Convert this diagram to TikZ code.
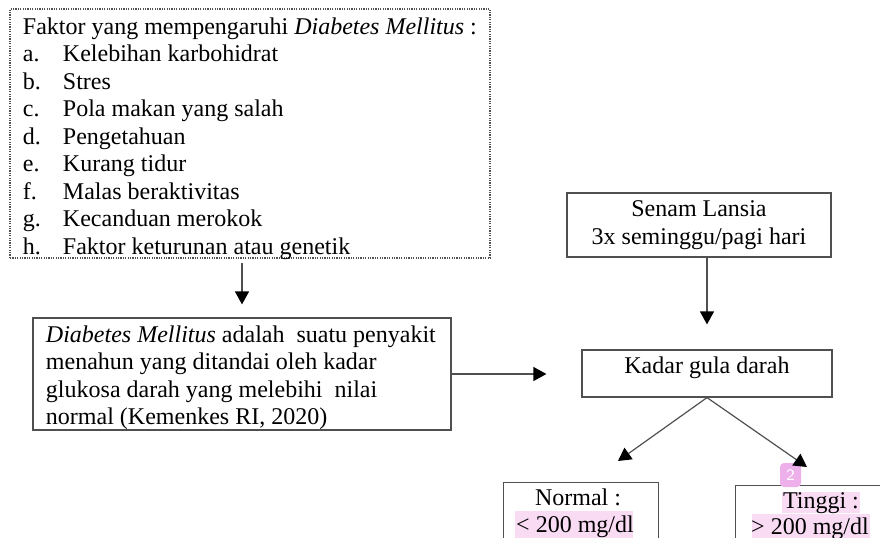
\documentclass[tikz,border=0pt]{standalone}
\usepackage{fontspec}
\setmainfont{Liberation Serif}
\usetikzlibrary{arrows.meta}
\definecolor{hl}{HTML}{F9DCF4}
\definecolor{badgepink}{HTML}{EDB0EA}
\definecolor{ln}{HTML}{505050}
\newcommand\facitem[1]{\makebox[20pt][l]{#1}}
\begin{document}
\begin{tikzpicture}[x=0.5pt,y=-0.5pt,
  every node/.style={font=\fontsize{12}{13.75}\selectfont},
  boxstyle/.style={draw=ln, line width=0.6pt, rectangle, inner sep=0pt},
  arr/.style={draw=ln, line width=0.6pt, -{Triangle[length=6.5pt,width=7pt,color=black]}},
  lbl/.style={inner sep=0pt, anchor=base}]
\useasboundingbox (0,0) rectangle (880,537);
\clip (0,0) rectangle (880,537);
\fill[white] (0,0) rectangle (880,537);

% factors box
\node[boxstyle, dash pattern=on 0.6pt off 0.6pt, minimum width=240pt, minimum height=124.5pt] (factors) at (250,133.5)
 {\makebox[227pt][l]{\raisebox{-2.5pt}[\height][\depth]{\begin{tabular}{@{}l@{}}
 Faktor yang mempengaruhi \textit{Diabetes Mellitus} :\\
 \facitem{a.}Kelebihan karbohidrat\\
 \facitem{b.}Stres\\
 \facitem{c.}Pola makan yang salah\\
 \facitem{d.}Pengetahuan\\
 \facitem{e.}Kurang tidur\\
 \facitem{f.}Malas beraktivitas\\
 \facitem{g.}Kecanduan merokok\\
 \facitem{h.}Faktor keturunan atau genetik
 \end{tabular}}}};

% definition box
\node[boxstyle, minimum width=209pt, minimum height=56pt] (dm) at (242,374)
 {\makebox[196pt][l]{\raisebox{-2pt}[\height][\depth]{\begin{tabular}{@{}l@{}}
 \textit{Diabetes Mellitus} adalah\ \ suatu penyakit\\
 menahun yang ditandai oleh kadar\\
 glukosa darah yang melebihi\ \ nilai\\
 normal (Kemenkes RI, 2020)
 \end{tabular}}}};

% senam box
\node[boxstyle, minimum width=132pt, minimum height=32pt] (senam) at (699,225)
 {\begin{tabular}{@{}c@{}}Senam Lansia\\ 3x seminggu/pagi hari\end{tabular}};

% kadar box
\node[boxstyle, minimum width=125pt, minimum height=23.5pt, text height=5pt, text depth=5.5pt] (kadar) at (707,373.5) {Kadar gula darah};

% result boxes
\node[boxstyle, anchor=north west, minimum width=77.5pt, minimum height=50pt] (normal) at (503,482) {};
\node[boxstyle, anchor=north west, minimum width=100pt, minimum height=50pt] (tinggi) at (735,485) {};

% highlights
\fill[hl] (515,511) rectangle (633,545);
\fill[hl] (782,492) rectangle (860,513);
\fill[hl] (752,514) rectangle (870,545);

\node[lbl] (normallbl) at (578,505) {Normal :};
\node[lbl] (normalval) at (575,532) {< 200 mg/dl};
\node[lbl] (tinggilbl) at (821,508) {Tinggi :};
\node[lbl] (tinggival) at (810,534) {> 200 mg/dl};

\node[fill=badgepink, rounded corners=2pt, minimum width=10.5pt, minimum height=12pt, inner sep=0pt, text=white,
  font=\sffamily\fontsize{8}{9}\selectfont] (badge) at (790.5,475) {2};

% connectors
\coordinate (tipL) at (618,461);
\coordinate (tipR) at (807,467);
\draw[arr, shorten <=2pt, shorten >=6.5pt] (factors.south -| dm.north) -- (dm.north);
\draw[arr, shorten >=17.5pt] (dm.east) -- (dm.east -| kadar.west);
\draw[arr, shorten >=12.5pt] (kadar.north |- senam.south) -- (kadar.north);
\draw[arr] (kadar.south) -- (tipL);
\draw[arr] (kadar.south) -- (tipR);
\end{tikzpicture}
\end{document}
